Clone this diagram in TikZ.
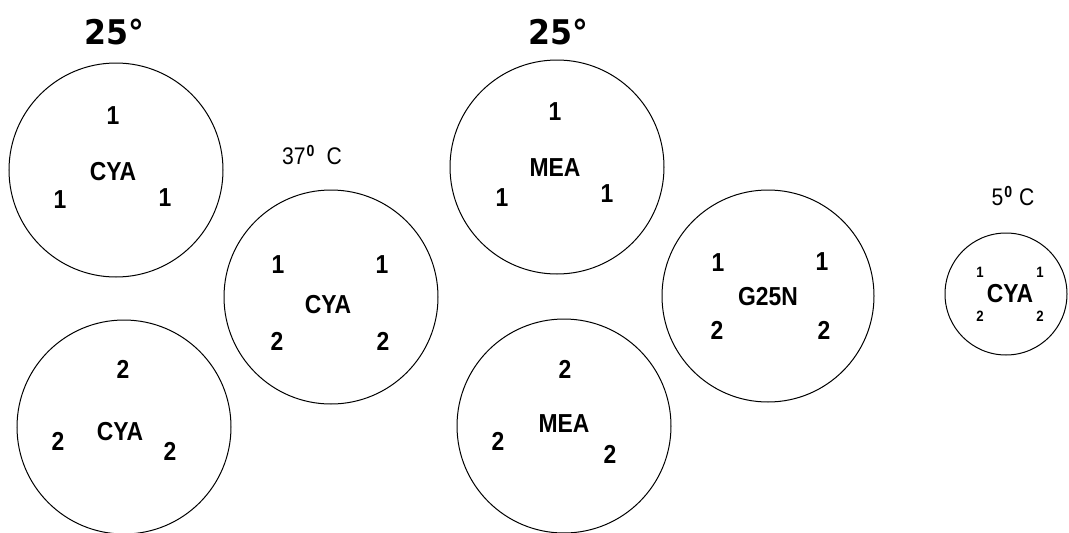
\documentclass[tikz,border=0pt]{standalone}
\usepackage{fontspec}
\setmainfont{Liberation Sans}
\newfontfamily\labfont[FakeStretch=0.88]{Liberation Sans}
\newfontfamily\headfont[FakeStretch=0.93]{DejaVu Sans}
\newcommand{\supzero}{\hspace{1pt}\raisebox{8pt}{\fontsize{16}{16}\selectfont\bfseries 0}}
\begin{document}
\begin{tikzpicture}[x=1pt,y=-1pt,
  dish/.style={draw=black,line width=1pt,circle,inner sep=0pt,minimum size=#1},
  lab/.style={inner sep=0pt,font=\labfont\fontsize{26}{26}\selectfont\bfseries},
  tiny/.style={inner sep=0pt,font=\labfont\fontsize{15}{15}\selectfont\bfseries},
  head/.style={inner sep=0pt,font=\headfont\fontsize{34}{34}\selectfont\bfseries},
  temp/.style={inner sep=0pt,font=\labfont\fontsize{24}{24}\selectfont}]
\useasboundingbox[fill=white] (0,0) rectangle (1069,533);
% headings
\node[head] (h1) at (114,32) {25°};
\node[head] (h2) at (558,32) {25°};
\node[temp] (t37) at (312,155) {37\supzero\hspace{12pt}C};
\node[temp] (t5) at (1013,196) {5\supzero\hspace{7pt}C};
% dish 1: CYA top-left
\node[dish=214pt] (d1) at (116,170) {};
\node[lab] (d1a) at (113,116) {1};
\node[lab] (d1b) at (113,172) {CYA};
\node[lab] (d1c) at (60,200) {1};
\node[lab] (d1d) at (165,198) {1};
% dish 2: CYA bottom-left
\node[dish=214pt] (d2) at (124,427) {};
\node[lab] (d2a) at (123,369) {2};
\node[lab] (d2b) at (120,432) {CYA};
\node[lab] (d2c) at (58,441) {2};
\node[lab] (d2d) at (170,451) {2};
% dish 3: CYA 37 C
\node[dish=214pt] (d3) at (331,297) {};
\node[lab] (d3a) at (278,265) {1};
\node[lab] (d3b) at (382,265) {1};
\node[lab] (d3c) at (328,305) {CYA};
\node[lab] (d3d) at (277,341) {2};
\node[lab] (d3e) at (383,341) {2};
% dish 4: MEA top
\node[dish=214pt] (d4) at (557,167) {};
\node[lab] (d4a) at (555,112) {1};
\node[lab] (d4b) at (555,168) {MEA};
\node[lab] (d4c) at (502,198) {1};
\node[lab] (d4d) at (607,194) {1};
% dish 5: MEA bottom
\node[dish=214pt] (d5) at (564,426) {};
\node[lab] (d5a) at (565,369) {2};
\node[lab] (d5b) at (564,424) {MEA};
\node[lab] (d5c) at (498,441) {2};
\node[lab] (d5d) at (610,454) {2};
% dish 6: G25N
\node[dish=212pt] (d6) at (768,296) {};
\node[lab] (d6a) at (718,263) {1};
\node[lab] (d6b) at (822,262) {1};
\node[lab] (d6c) at (768,297) {G25N};
\node[lab] (d6d) at (717,330) {2};
\node[lab] (d6e) at (824,330) {2};
% dish 7: small CYA 5 C
\node[dish=122pt] (d7) at (1006,294) {};
\node[tiny] (d7a) at (980,272) {1};
\node[tiny] (d7b) at (1040,272) {1};
\node[lab] (d7c) at (1010,294) {CYA};
\node[tiny] (d7d) at (980,316) {2};
\node[tiny] (d7e) at (1040,316) {2};
\end{tikzpicture}
\end{document}
